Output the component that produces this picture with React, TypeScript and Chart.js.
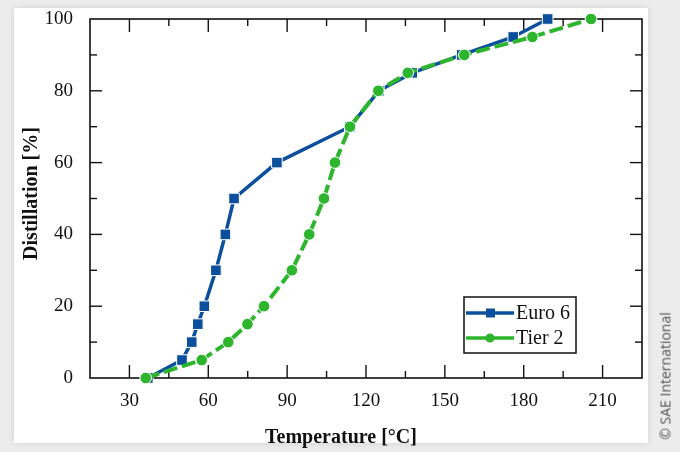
import React, { useEffect, useRef } from "react";
import { Chart, registerables } from "chart.js";

Chart.register(...registerables);

// ---- data ----
const distillationPct = [0, 5, 10, 15, 20, 30, 40, 50, 60, 70, 80, 85, 90, 95, 100];
const euro6Temp = [37, 50, 53.7, 56, 58.5, 62.9, 66.5, 69.8, 86.1, 113.9, 124.9, 137.6, 156.4, 176, 189.1];
const tier2Temp = [36.2, 57.5, 67.6, 74.9, 81.2, 91.8, 98.4, 104, 108.2, 113.9, 124.7, 135.9, 157.4, 183.3, 205.6];
const seriesNames = ["Euro 6", "Tier 2"];
const xAxisTitle = "Temperature [°C]";
const yAxisTitle = "Distillation [%]";
const xRange = [15, 225];
const yRange = [0, 100];
const xMajorStep = 30;
const xMinorStep = 15;
const yMajorStep = 20;
const yMinorStep = 10;
const credit = "© SAE International";

const BLUE = "#0c4f9c";
const GREEN = "#2db52d";
const SERIF = "'Liberation Serif', 'Times New Roman', serif";

const framePlugin = {
  id: "frameTicks",
  beforeDatasetsDraw(chart: any) {
    const { ctx, chartArea: a, scales } = chart;
    ctx.save();
    ctx.strokeStyle = "#111";
    ctx.lineWidth = 1.6;
    ctx.strokeRect(a.left, a.top, a.right - a.left, a.bottom - a.top);
    ctx.lineWidth = 1.4;
    const seg = (x1: number, y1: number, x2: number, y2: number) => {
      ctx.beginPath();
      ctx.moveTo(x1, y1);
      ctx.lineTo(x2, y2);
      ctx.stroke();
    };
    scales.x.ticks.forEach((t: any) => {
      const px = scales.x.getPixelForValue(t.value);
      if (px <= a.left + 1 || px >= a.right - 1) return;
      const len = t.value % xMajorStep === 0 ? 13 : 7;
      seg(px, a.bottom, px, a.bottom - len);
      seg(px, a.top, px, a.top + len);
    });
    scales.y.ticks.forEach((t: any) => {
      const py = scales.y.getPixelForValue(t.value);
      if (py <= a.top + 1 || py >= a.bottom - 1) return;
      const len = t.value % yMajorStep === 0 ? 12 : 7;
      seg(a.left, py, a.left + len, py);
      seg(a.right, py, a.right - len, py);
    });
    ctx.restore();
  },
  afterDraw(chart: any) {
    const { ctx, chartArea: a } = chart;
    ctx.save();
    // axis titles
    ctx.fillStyle = "#111";
    ctx.font = `bold 20px ${SERIF}`;
    ctx.textAlign = "center";
    ctx.textBaseline = "middle";
    ctx.fillText(xAxisTitle, a.left + 251, a.bottom + 60);
    ctx.save();
    ctx.translate(32, (a.top + a.bottom) / 2 - 5);
    ctx.rotate(-Math.PI / 2);
    ctx.fillText(yAxisTitle, 0, 0);
    ctx.restore();

    // legend
    const lx = a.right - 178;
    const ly = a.bottom - 81;
    const lw = 112;
    const lh = 56;
    ctx.fillStyle = "#fff";
    ctx.fillRect(lx, ly, lw, lh);
    ctx.strokeStyle = "#111";
    ctx.lineWidth = 1.5;
    ctx.strokeRect(lx, ly, lw, lh);
    const ds = chart.data.datasets;
    ds.forEach((d: any, i: number) => {
      const cy = ly + 16 + i * 25;
      ctx.strokeStyle = d.borderColor;
      ctx.lineWidth = 3.5;
      ctx.beginPath();
      ctx.moveTo(lx + 2, cy);
      ctx.lineTo(lx + 50, cy);
      ctx.stroke();
      ctx.fillStyle = d.borderColor;
      if (d.pointStyle === "rect") {
        ctx.fillRect(lx + 22, cy - 4.5, 9, 9);
      } else {
        ctx.beginPath();
        ctx.arc(lx + 26, cy, 4.5, 0, Math.PI * 2);
        ctx.fill();
      }
      ctx.fillStyle = "#111";
      ctx.font = `20px ${SERIF}`;
      ctx.textAlign = "left";
      ctx.textBaseline = "middle";
      ctx.fillText(d.label, lx + 52, cy + 1);
    });
    ctx.restore();
  },
};

export default function App() {
  const ref = useRef<HTMLCanvasElement | null>(null);

  useEffect(() => {
    if (!ref.current) return;
    const chart = new Chart(ref.current, {
      type: "line",
      data: {
        datasets: [
          {
            label: seriesNames[0],
            data: euro6Temp.map((t, i) => ({ x: t, y: distillationPct[i] })),
            borderColor: BLUE,
            backgroundColor: BLUE,
            borderWidth: 3.5,
            pointStyle: "rect",
            pointRadius: 7.5,
            pointBorderColor: "#ffffff",
            pointBorderWidth: 1,
            pointBackgroundColor: BLUE,
            tension: 0,
            fill: false,
            clip: false,
            order: 1,
          },
          {
            label: seriesNames[1],
            data: tier2Temp.map((t, i) => ({ x: t, y: distillationPct[i] })),
            borderColor: GREEN,
            backgroundColor: GREEN,
            borderWidth: 4,
            borderDash: [14, 5],
            pointStyle: "circle",
            pointRadius: 5.8,
            pointBorderColor: "#ffffff",
            pointBorderWidth: 1,
            pointBackgroundColor: GREEN,
            tension: 0,
            fill: false,
            clip: false,
            order: 0,
          },
        ],
      },
      options: {
        responsive: false,
        animation: false,
        layout: { padding: { left: 0, top: 19, right: 38, bottom: 0 } },
        plugins: {
          legend: { display: false },
          tooltip: { enabled: false },
        },
        scales: {
          x: {
            type: "linear",
            min: xRange[0],
            max: xRange[1],
            grid: { display: false, drawTicks: false },
            border: { display: false },
            afterFit: (s: any) => {
              s.height = 74;
              s.paddingLeft = 0;
              s.paddingRight = 0;
            },
            ticks: {
              stepSize: xMinorStep,
              autoSkip: false,
              maxRotation: 0,
              padding: 12,
              color: "#111",
              font: { family: SERIF, size: 19 },
              callback: (v: any) => (Number(v) % xMajorStep === 0 ? String(v) : ""),
            },
          },
          y: {
            type: "linear",
            min: yRange[0],
            max: yRange[1],
            grid: { display: false, drawTicks: false },
            border: { display: false },
            afterFit: (s: any) => {
              s.width = 90;
              s.paddingTop = 0;
              s.paddingBottom = 0;
            },
            ticks: {
              stepSize: yMinorStep,
              autoSkip: false,
              padding: 17,
              color: "#111",
              font: { family: SERIF, size: 19 },
              callback: (v: any) => (Number(v) % yMajorStep === 0 ? String(v) : ""),
            },
          },
        },
      },
      plugins: [framePlugin],
    } as any);
    return () => chart.destroy();
  }, []);

  return (
    <div
      style={{
        position: "fixed",
        left: 0,
        top: 0,
        width: 680,
        height: 452,
        background: "#ececec",
        overflow: "hidden",
      }}
    >
      <div
        style={{
          position: "absolute",
          left: 14,
          top: 8,
          width: 634,
          height: 435,
          background: "#ffffff",
          boxShadow: "0 0 6px rgba(0,0,0,0.12)",
        }}
      />
      <canvas
        ref={ref}
        width={680}
        height={452}
        style={{ position: "absolute", left: 0, top: 0, width: 680, height: 452 }}
      />
      <div
        style={{
          position: "absolute",
          left: 665,
          top: 376,
          transform: "translate(-50%, -50%) rotate(-90deg)",
          whiteSpace: "nowrap",
          fontFamily: "'Open Sans', 'Noto Sans', sans-serif",
          fontSize: 14,
          fontWeight: 400,
          color: "#555",
        }}
      >
        {credit}
      </div>
    </div>
  );
}
